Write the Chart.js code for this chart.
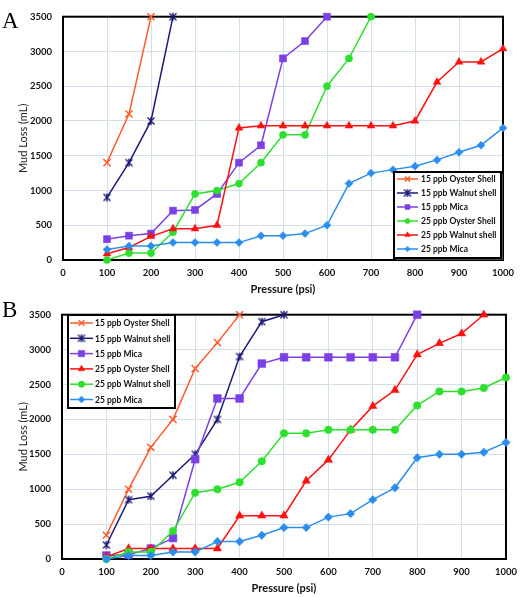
<!DOCTYPE html>
<html><head><meta charset="utf-8">
<script src="https://cdn.jsdelivr.net/npm/chart.js@4"></script>
<style>
html,body{margin:0;padding:0;background:#fff;width:524px;height:597px;overflow:hidden;position:relative;}
canvas{position:absolute;left:0;}
#ca{top:0;}
#cb{top:298px;}
.lbl{position:absolute;font-family:"Liberation Serif","Times New Roman",serif;font-size:23px;color:#000;line-height:1;}
</style></head><body>
<canvas id="ca" width="524" height="298"></canvas>
<canvas id="cb" width="524" height="299"></canvas>
<div class="lbl" style="left:2px;top:9px">A</div>
<div class="lbl" style="left:2px;top:298px">B</div>
<script>
// ---------- data ----------
const pressure = [100,150,200,250,300,350,400,450,500,550,600,650,700,750,800,850,900,950,1000];
const xTicks = [0,100,200,300,400,500,600,700,800,900,1000];
const yTicks = [0,500,1000,1500,2000,2500,3000,3500];

const labelsA = ['15 ppb Oyster Shell','15 ppb Walnut shell','15 ppb Mica','25 ppb Oyster Shell','25 ppb Walnut shell','25 ppb Mica'];
const a15Oyster = [1400,2100,3500];
const a15Walnut = [900,1400,2000,3500];
const a15Mica   = [300,350,380,710,720,950,1400,1650,2900,3150,3500];
const a25Oyster = [0,100,100,400,950,1000,1100,1400,1800,1800,2500,2900,3500];
const a25Walnut = [90,180,340,450,450,500,1900,1930,1930,1930,1930,1930,1930,1930,2000,2560,2850,2850,3040];
const a25Mica   = [150,200,200,250,250,250,250,350,350,380,500,1100,1250,1300,1350,1440,1550,1650,1900];

const labelsB = ['15 ppb Oyster Shell','15 ppb Walnut shell','15 ppb Mica','25 ppb Oyster Shell','25 ppb Walnut shell','25 ppb Mica'];
const b15Oyster = [340,1000,1600,2000,2730,3100,3500];
const b15Walnut = [200,850,900,1200,1500,2000,2900,3400,3500];
const b15Mica   = [50,60,150,300,1430,2300,2300,2800,2890,2890,2890,2890,2890,2890,3500];
const b25Oyster = [30,150,150,150,150,150,620,620,620,1120,1420,1850,2190,2420,2930,3090,3230,3500];
const b25Walnut = [0,100,100,400,950,1000,1100,1400,1800,1800,1850,1850,1850,1850,2200,2400,2400,2450,2600];
const b25Mica   = [0,50,50,100,100,250,250,340,450,450,600,650,850,1020,1450,1500,1500,1530,1670];

// ---------- styles ----------
const C = {orange:'#FF5B2B', navy:'#1C1A78', purple:'#7B3FE6', green:'#2EE02E', red:'#FF1010', blue:'#2B8EEE'};
const FONT = 'Lato';

function starMarker(color){
  const c=document.createElement('canvas'); c.width=10; c.height=10;
  const g=c.getContext('2d'); g.strokeStyle=color; g.lineWidth=1.4;
  g.beginPath();
  g.moveTo(1.5,1.5); g.lineTo(8.5,8.5); g.moveTo(8.5,1.5); g.lineTo(1.5,8.5);
  g.moveTo(5,1); g.lineTo(5,9);
  g.stroke();
  return c;
}
const navyStar = starMarker(C.navy);

function pts(vals){ return vals.map((v,i)=>({x:pressure[i], y:v})); }

function ds(label, vals, color, style, radius, legendRadius, idx){
  const isLine = (style==='crossRot' || typeof style!=='string');
  return {
    label, data: pts(vals),
    borderColor: color, backgroundColor: color,
    borderWidth: 1.5,
    pointStyle: style, pointRadius: radius, pointHoverRadius: radius,
    pointBackgroundColor: color, pointBorderColor: color,
    pointBorderWidth: isLine ? 1.5 : 0.5,
    legendRadius,
    tension: 0, clip: false,
    order: 10 - idx
  };
}

const framePlugin = {
  id:'frame',
  beforeDatasetsDraw(chart){
    const {left,top,right,bottom} = chart.chartArea;
    const ctx = chart.ctx;
    ctx.save();
    ctx.strokeStyle='#000'; ctx.lineWidth=2;
    ctx.strokeRect(left,top,right-left,bottom-top);
    ctx.restore();
  }
};

const legendPlugin = {
  id:'boxLegend',
  afterDraw(chart, args, o){
    const ctx = chart.ctx;
    ctx.save();
    if (o.shadow){ ctx.fillStyle='rgba(90,90,90,0.8)'; ctx.fillRect(o.x+2,o.y+2,o.w,o.h); }
    ctx.fillStyle='#fff'; ctx.fillRect(o.x,o.y,o.w,o.h);
    ctx.lineWidth=2; ctx.strokeStyle='#000'; ctx.strokeRect(o.x,o.y,o.w,o.h);
    chart.data.datasets.forEach((d,i)=>{
      const yy = o.rowY + i*o.rowH;
      ctx.strokeStyle=d.borderColor; ctx.lineWidth=1.5;
      ctx.beginPath(); ctx.moveTo(o.lineX1,yy); ctx.lineTo(o.lineX2,yy); ctx.stroke();
      ctx.fillStyle=d.pointBackgroundColor; ctx.strokeStyle=d.pointBorderColor; ctx.lineWidth=d.pointBorderWidth;
      Chart.helpers.drawPoint(ctx,{pointStyle:d.pointStyle,radius:d.legendRadius,rotation:0,borderWidth:d.pointBorderWidth},(o.lineX1+o.lineX2)/2,yy);
      ctx.fillStyle='#111'; ctx.font='bold '+o.fontSize+'px '+FONT; ctx.textBaseline='middle'; ctx.textAlign='left';
      ctx.fillText(d.label,o.textX,yy+0.5,o.x+o.w-o.textX-2);
    });
    ctx.restore();
  }
};

function makeOptions(yWidth, padTop, padRight, legend){
  return {
    responsive:false, animation:false, events:[],
    layout:{padding:{left:0,right:padRight,top:padTop,bottom:0}},
    plugins:{legend:{display:false}, tooltip:{enabled:false}, boxLegend:legend},
    scales:{
      x:{type:'linear', min:0, max:1000,
         afterBuildTicks(s){ s.ticks = xTicks.map(v=>({value:v})); },
         afterFit(s){ s.height = 38; },
         grid:{color:'#D3DEE9', lineWidth:1, drawTicks:false},
         border:{display:false},
         ticks:{padding:7, color:'#111', font:{family:FONT, size:9.5, weight:'bold'}, maxRotation:0, autoSkip:false, callback:v=>String(v)},
         title:{display:true, text:'Pressure (psi)', color:'#111', font:{family:FONT, size:11, weight:'bold'}, padding:{top:0,bottom:2}}
      },
      y:{type:'linear', min:0, max:3500,
         afterBuildTicks(s){ s.ticks = yTicks.map(v=>({value:v})); },
         afterFit(s){ s.width = yWidth; },
         grid:{color:'#D3DEE9', lineWidth:1, drawTicks:false},
         border:{display:false},
         ticks:{padding:11, color:'#111', font:{family:FONT, size:9.5, weight:'bold'}, autoSkip:false, callback:v=>String(v)},
         title:{display:true, text:'Mud Loss (mL)', color:'#222', font:{family:FONT, size:11, weight:'normal'}, padding:{top:17,bottom:0}}
      }
    }
  };
}

const dsA = [
  ds(labelsA[0], a15Oyster, C.orange, 'crossRot', 5, 3.5, 0),
  ds(labelsA[1], a15Walnut, C.navy, navyStar, 5, 3.5, 1),
  ds(labelsA[2], a15Mica, C.purple, 'rect', 5, 3.5, 2),
  ds(labelsA[3], a25Oyster, C.green, 'circle', 3.6, 2.6, 3),
  ds(labelsA[4], a25Walnut, C.red, 'triangle', 4.5, 3.2, 4),
  ds(labelsA[5], a25Mica, C.blue, 'rectRot', 4, 2.8, 5)
];
const dsB = [
  ds(labelsB[0], b15Oyster, C.orange, 'crossRot', 5, 4, 0),
  ds(labelsB[1], b15Walnut, C.navy, navyStar, 5, 4, 1),
  ds(labelsB[2], b15Mica, C.purple, 'rect', 5.5, 4.5, 2),
  ds(labelsB[3], b25Oyster, C.red, 'triangle', 4.8, 3.8, 3),
  ds(labelsB[4], b25Walnut, C.green, 'circle', 3.8, 3.2, 4),
  ds(labelsB[5], b25Mica, C.blue, 'rectRot', 4.2, 3.4, 5)
];

new Chart(document.getElementById('ca'), {
  type:'line', data:{datasets:dsA},
  options: makeOptions(63, 5, 21, {x:394,y:172,w:107,h:86,rowY:179,rowH:14,lineX1:397,lineX2:418,textX:421,fontSize:8.5,shadow:true}),
  plugins:[framePlugin, legendPlugin]
});
new Chart(document.getElementById('cb'), {
  type:'line', data:{datasets:dsB},
  options: makeOptions(62, 16, 12, {x:68,y:17,w:107,h:93,rowY:25,rowH:15.3,lineX1:70,lineX2:93,textX:95,fontSize:8.5,shadow:false}),
  plugins:[framePlugin, legendPlugin]
});
</script>
</body></html>
